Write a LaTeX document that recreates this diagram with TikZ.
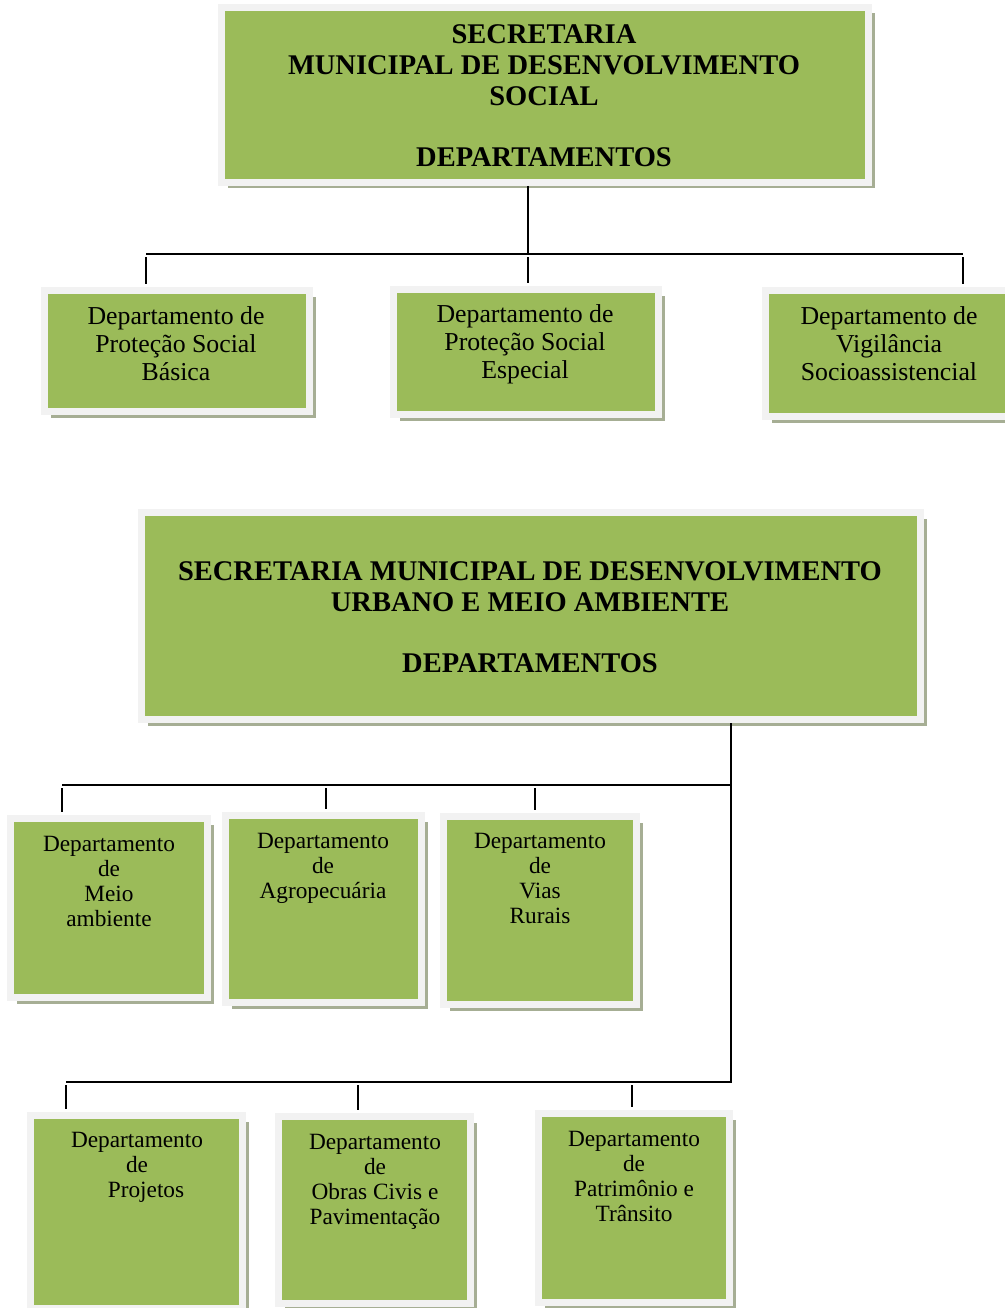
\documentclass[tikz,border=0pt]{standalone}
\usepackage{fontspec}
\setmainfont{Liberation Serif}
\usetikzlibrary{shadows}
\definecolor{boxgreen}{HTML}{9BBB59}
\definecolor{boxrim}{HTML}{F2F2F2}
\definecolor{boxshade}{HTML}{A6AE94}
\tikzset{
  box/.style={fill=boxgreen, draw=boxrim, line width=7pt, inner sep=0pt,
    drop shadow={shadow xshift=6pt, shadow yshift=-6pt, fill=boxshade, opacity=1}},
  head/.style={font=\fontsize{28.5}{31}\selectfont\bfseries, align=center},
  deptbig/.style={font=\fontsize{25.8}{28}\selectfont, align=center},
  deptsmall/.style={font=\fontsize{23.3}{25}\selectfont, align=center},
  link/.style={line width=1.6pt},
  drop/.style={line width=1.6pt, shorten <=3pt, shorten >=3pt}
}
\begin{document}
\begin{tikzpicture}[x=1pt, y=-1pt]
            \useasboundingbox (0,0) rectangle (1004,1308);

            % social
            \node[box, minimum width=647, minimum height=175] (sec1) at (545,95) {};
            \node[head] (sec1t) at (544,96) {SECRETARIA\\ MUNICIPAL DE DESENVOLVIMENTO\\ SOCIAL\\[30pt] DEPARTAMENTOS};

            \node[box, minimum width=265, minimum height=121] (dpsb) at (177,351) {};
            \node[deptbig] (dpsbt) at (176,344) {Departamento de\\ Proteção Social\\ Básica};
            \node[box, minimum width=265, minimum height=125] (dpse) at (526,352) {};
            \node[deptbig] (dpset) at (525,344) {Departamento de\\ Proteção Social\\ Especial};
            \node[box, minimum width=246, minimum height=126] (dvs) at (888.5,353.5) {};
            \node[deptbig] (dvst) at (889,344) {Departamento de\\ Vigilância\\ Socioassistencial};

            \coordinate (s1) at (146,254);
            \coordinate (s2) at (528,254);
            \coordinate (s3) at (963,254);
            \draw[link] (s2 |- sec1.south) -- (s2);
            \draw[link] (s1) -- (s3);
            \foreach \c/\n in {s1/dpsb, s2/dpse, s3/dvs}
                \draw[drop] (\c) -- (\c |- \n.north);

            % urbano
            \node[box, minimum width=779, minimum height=207] (sec2) at (531,616) {};
            \node[head] (sec2t) at (530,617) {SECRETARIA MUNICIPAL DE DESENVOLVIMENTO\\ URBANO E MEIO AMBIENTE\\[30pt] DEPARTAMENTOS};

            \node[box, minimum width=197, minimum height=179] (dma) at (109,908) {};
            \node[deptsmall] (dmat) at (109,881) {Departamento\\ de\\ Meio\\ ambiente};
            \node[box, minimum width=196, minimum height=187] (dagro) at (323.5,909) {};
            \node[deptsmall] (dagrot) at (323,868) {Departamento\\ de\\ Agropecuária};
            \node[box, minimum width=193, minimum height=188] (dvr) at (540,910.5) {};
            \node[deptsmall] (dvrt) at (540,878) {Departamento\\ de\\ Vias\\ Rurais};

            \node[box, minimum width=212, minimum height=193] (dproj) at (136.5,1212) {};
            \node[deptsmall] (dprojt) at (137,1167) {Departamento\\ de\\ \hspace*{18pt}Projetos};
            \node[box, minimum width=192, minimum height=187] (dobras) at (374.5,1210) {};
            \node[deptsmall] (dobrast) at (375,1182) {Departamento\\ de\\ Obras Civis e\\ Pavimentação};
            \node[box, minimum width=191, minimum height=189] (dpt) at (634,1208) {};
            \node[deptsmall] (dptt) at (634,1176) {Departamento\\ de\\ Patrimônio e\\ Trânsito};

            \coordinate (u0) at (731,785);
            \coordinate (u1) at (62,785);
            \coordinate (u2) at (326,785);
            \coordinate (u3) at (535,785);
            \coordinate (v0) at (731,1082);
            \coordinate (v1) at (66,1082);
            \coordinate (v2) at (358,1082);
            \coordinate (v3) at (632,1082);
            \draw[link] (u0 |- sec2.south) -- (v0) -- (v1);
            \draw[link] (u0) -- (u1);
            \foreach \c/\n in {u1/dma, u2/dagro, u3/dvr, v1/dproj, v2/dobras, v3/dpt}
                \draw[drop] (\c) -- (\c |- \n.north);

        \end{tikzpicture}
\end{document}
